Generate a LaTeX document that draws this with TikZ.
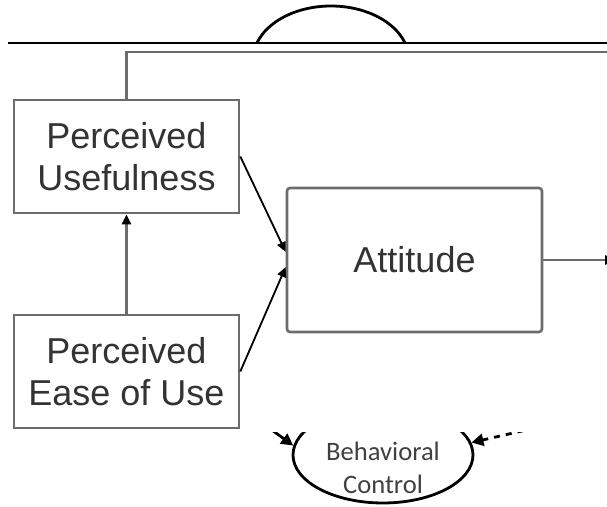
\documentclass[tikz,border=0pt]{standalone}
\usepackage{fontspec}
\setmainfont{Liberation Sans}
\newfontfamily\ovalfont{Carlito}
\usetikzlibrary{arrows.meta}
\usetikzlibrary{shapes}

\begin{document}
\begin{tikzpicture}[x=0.5pt, y=-0.5pt,
    box/.style={draw=gray!85!black, line width=1.3pt, inner sep=0pt, align=center,
      text=black!80, font=\fontsize{18}{21}\selectfont},
    oval/.style={ellipse, draw=black, line width=1.4pt, inner sep=0pt},
    ovaltext/.style={align=center, text=black!75, font=\ovalfont\fontsize{13.3}{16.5}\selectfont},
    link/.style={line width=0.9pt, -{Triangle[length=5pt,width=4.5pt,color=black]}},
    biglink/.style={line width=1.4pt, -{Triangle[length=6pt,width=6pt,color=black]}},
    wire/.style={draw=gray!85!black, line width=1.3pt}]
      \useasboundingbox (0,0) rectangle (607,507);
      \clip (0,0) rectangle (607,507);
      \begin{scope}
        \clip (0,0) rectangle (607,43);
        \node[oval, minimum width=78pt, minimum height=54pt] (norm) at (331,60) {};
      \end{scope}
      \coordinate (rulestart) at (8,43);
      \coordinate (ruleend) at (620,43);
      \draw[black, line width=1pt] (rulestart) -- (ruleend);
      \node[box, minimum width=112.5pt, minimum height=56.5pt] (pu) at (126.5,156.5) {Perceived\\Usefulness};
      \node[box, minimum width=112.5pt, minimum height=56.5pt] (peou) at (126.5,371.5) {Perceived\\Ease of Use};
      \node[box, rounded corners=1.5pt, minimum width=127.5pt, minimum height=72pt] (att) at (414.5,260) {Attitude};
      \coordinate (topend) at (620,52);
      \draw[wire] (pu.north) |- (topend);
      \draw[link, wire] (peou.north) -- (pu.south);
      \draw[link] (pu.east) -- ([yshift=4pt]att.west);
      \draw[link] (peou.east) -- ([yshift=-3.5pt]att.west);
      \coordinate (attout) at (615,260);
      \draw[link, wire] (att.east) -- (attout);
      \begin{scope}
        \clip (0,433) rectangle (607,507);
        \node[oval, minimum width=90pt, minimum height=48pt] (pbc) at (383,455) {};
        \node[ovaltext] (pbctext) at (383,468) {Behavioral\\Control};
        \coordinate (leftin) at (258,420);
        \coordinate (rightin) at (535,428);
        \draw[biglink] (leftin) -- (pbc.174);
        \draw[biglink, dashed] (rightin) -- (pbc.8);
      \end{scope}
    \end{tikzpicture}
\end{document}
